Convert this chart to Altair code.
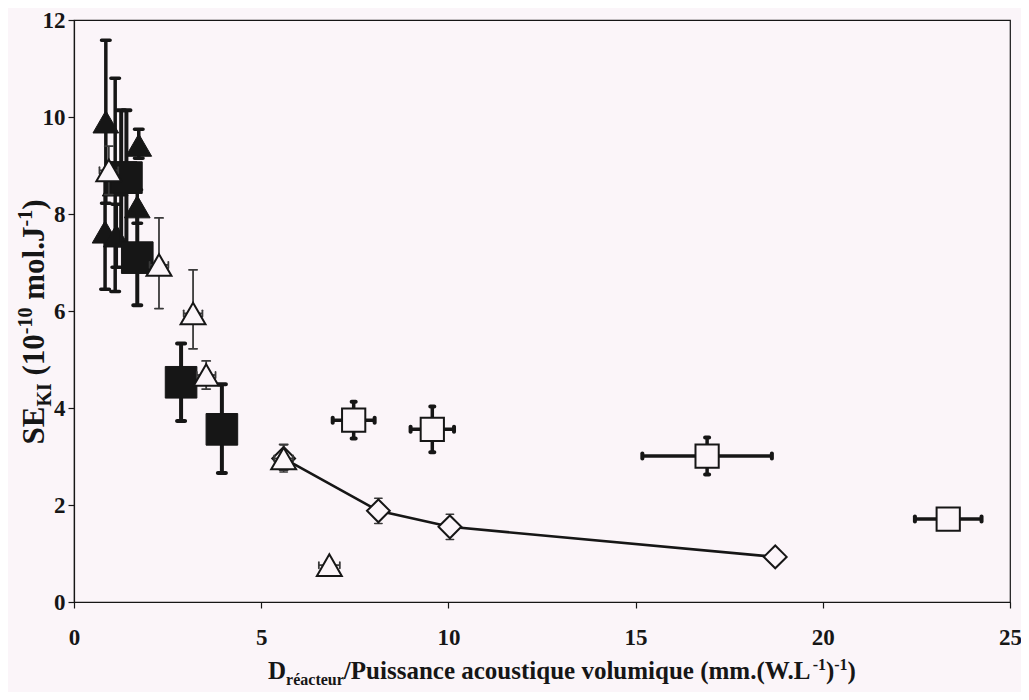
import altair as alt
import pandas as pd

# ---------------- data ----------------
# filled triangles
tri_f_x = [0.85, 0.83, 1.10, 1.13, 1.69, 1.73]
tri_f_y = [9.90, 7.63, 8.60, 7.55, 8.15, 9.42]
tri_f_lo = [8.22, 6.45, 6.40, 6.90, 7.81, 9.15]
tri_f_hi = [11.58, 8.80, 10.80, 8.20, 8.50, 9.75]

# filled squares
sq_f_x = [1.26, 1.40, 1.69, 2.86, 3.95]
sq_f_y = [8.75, 8.75, 7.10, 4.53, 3.56]
sq_f_lo = [7.35, 7.35, 6.12, 3.73, 2.66]
sq_f_hi = [10.14, 10.14, 8.08, 5.33, 4.49]

# open triangles
tri_o_x = [0.93, 2.27, 3.18, 3.53, 5.60, 6.82]
tri_o_y = [8.90, 6.95, 5.95, 4.68, 2.96, 0.76]
tri_o_lo = [8.40, 6.05, 5.22, 4.39, 2.72, 0.70]
tri_o_hi = [9.40, 7.92, 6.85, 4.97, 3.25, 0.82]
tri_o_xerr = [0.25, 0.25, 0.25, 0.25, 0.25, 0.28]

# open squares
sq_o_x = [7.47, 9.57, 16.91, 23.35]
sq_o_y = [3.75, 3.56, 3.01, 1.71]
sq_o_yerr = [0.38, 0.47, 0.38, 0.12]
sq_o_xerr = [0.56, 0.58, 1.73, 0.89]

# open diamonds (joined by a line)
dia_x = [5.60, 8.13, 10.04, 18.73]
dia_y = [2.96, 1.88, 1.55, 0.93]
dia_yerr = [0.28, 0.26, 0.26, 0.05]

x_ticks = [0, 5, 10, 15, 20, 25]
y_ticks = [0, 2, 4, 6, 8, 10, 12]

# ---------------- styling ----------------
BG = "#fbf5f9"
INK = "#161616"
GREY = "#3a3a3a"
FONT = "Liberation Serif"
W, H = 936, 582

xs = alt.Scale(domain=[0, 25], nice=False, zero=False)
ys = alt.Scale(domain=[0, 12], nice=False, zero=False)
ax_common = dict(title=None, grid=False, domainColor=INK, domainWidth=1.2,
                 tickColor=INK, tickWidth=1.2, tickSize=6,
                 labelFont=FONT, labelFontWeight="bold", labelFontSize=23,
                 labelColor=INK)
xax = alt.Axis(values=x_ticks, labelPadding=18, labelFlush=False, **ax_common)
yax = alt.Axis(values=y_ticks, labelPadding=3, **ax_common)


def X(f):
    return alt.X(f, type="quantitative", scale=xs, axis=xax)


def Y(f):
    return alt.Y(f, type="quantitative", scale=ys, axis=yax)


def ybars(df, sw, color, cap, capw):
    rule = alt.Chart(df).mark_rule(strokeWidth=sw, color=color).encode(
        x=X("x"), y=Y("lo"), y2="hi")
    caps = alt.Chart(df).transform_fold(["lo", "hi"], as_=["k", "v"]).mark_tick(
        orient="horizontal", size=cap, thickness=capw, color=color,
        cornerRadius=capw / 2, opacity=1).encode(x=X("x"), y=Y("v:Q"))
    return [rule, caps]


def xbars(df, sw, color, cap, capw):
    rule = alt.Chart(df).mark_rule(strokeWidth=sw, color=color).encode(
        x=X("xlo"), x2="xhi", y=Y("y"))
    caps = alt.Chart(df).transform_fold(["xlo", "xhi"], as_=["k", "v"]).mark_tick(
        orient="vertical", size=cap, thickness=capw, color=color,
        cornerRadius=capw / 2, opacity=1).encode(x=X("v:Q"), y=Y("y"))
    return [rule, caps]


def markers(df, shape, size, filled):
    if filled:
        m = alt.Chart(df).mark_point(shape=shape, size=size, filled=True,
                                     fill=INK, stroke=INK, strokeWidth=1, opacity=1)
    else:
        m = alt.Chart(df).mark_point(shape=shape, size=size, filled=True,
                                     fill=BG, stroke=INK, strokeWidth=2, opacity=1)
    return m.encode(x=X("x"), y=Y("y"))


df_tf = pd.DataFrame({"x": tri_f_x, "y": tri_f_y, "lo": tri_f_lo, "hi": tri_f_hi})
df_sf = pd.DataFrame({"x": sq_f_x, "y": sq_f_y, "lo": sq_f_lo, "hi": sq_f_hi})
df_to = pd.DataFrame({"x": tri_o_x, "y": tri_o_y, "lo": tri_o_lo, "hi": tri_o_hi,
                      "xlo": [a - e for a, e in zip(tri_o_x, tri_o_xerr)],
                      "xhi": [a + e for a, e in zip(tri_o_x, tri_o_xerr)]})
df_so = pd.DataFrame({"x": sq_o_x, "y": sq_o_y,
                      "lo": [a - e for a, e in zip(sq_o_y, sq_o_yerr)],
                      "hi": [a + e for a, e in zip(sq_o_y, sq_o_yerr)],
                      "xlo": [a - e for a, e in zip(sq_o_x, sq_o_xerr)],
                      "xhi": [a + e for a, e in zip(sq_o_x, sq_o_xerr)]})
df_d = pd.DataFrame({"x": dia_x, "y": dia_y,
                     "lo": [a - e for a, e in zip(dia_y, dia_yerr)],
                     "hi": [a + e for a, e in zip(dia_y, dia_yerr)]})

layers = []
layers.append(alt.Chart(df_d).mark_line(color=INK, strokeWidth=2.6).encode(
    x=X("x"), y=Y("y")))
layers += ybars(df_d, 1.6, GREY, 9, 1.6)
layers.append(markers(df_d, "diamond", 520, False))
layers += ybars(df_tf, 3.5, INK, 12, 3.5)
layers.append(markers(df_tf, "triangle-up", 660, True))
layers += ybars(df_sf, 4, INK, 12, 4)
layers.append(markers(df_sf, "square", 1000, True))
layers += ybars(df_to, 1.8, GREY, 10, 1.8)
layers += xbars(df_to, 1.8, GREY, 8, 1.8)
layers.append(markers(df_to, "triangle-up", 620, False))
layers += ybars(df_so, 3.5, INK, 8, 4)
layers += xbars(df_so, 3.5, INK, 9, 4)
layers.append(markers(df_so, "square", 540, False))

# ---------------- axis titles with sub/superscripts ----------------
ADV = {" ": 250, "(": 333, ")": 333, "-": 333, ".": 250, "/": 278,
       "D": 722, "E": 667, "I": 389, "J": 500, "K": 778, "L": 667,
       "P": 611, "S": 556, "W": 1000, "a": 500, "c": 444, "e": 444,
       "é": 444, "i": 278, "l": 278, "m": 833, "n": 556, "o": 500,
       "q": 556, "r": 444, "s": 389, "t": 333, "u": 556, "v": 500}


def tw(s, size):
    return sum(ADV.get(ch, 500) for ch in s) * size / 1000.0


def title_layers(pieces, main, small, horizontal, cx, cy, sub_shift, sup_shift):
    laid = []
    pos = 0.0
    for txt, kind in pieces:
        size = main if kind == "n" else small
        lead = len(txt) - len(txt.lstrip())
        pos += tw(" " * lead, size)
        shift = {"n": 0.0, "b": sub_shift, "p": -sup_shift}[kind]
        laid.append((txt.lstrip(), size, pos, shift))
        pos += tw(txt.lstrip(), size)
    total = pos
    out = []
    for txt, size, p, shift in laid:
        if horizontal:
            px, py, ang = cx - total / 2 + p, cy + shift, 0
        else:
            px, py, ang = cx + shift, cy + total / 2 - p, 270
        out.append(alt.Chart(pd.DataFrame({"t": [txt]})).mark_text(
            align="left", baseline="alphabetic", angle=ang, font=FONT,
            fontWeight="bold", fontSize=size, color=INK).encode(
            text="t:N", x=alt.value(px), y=alt.value(py)))
    return out


x_title = [("D", "n"), ("réacteur", "b"),
           ("/Puissance acoustique volumique (mm.(W.L", "n"),
           ("-1", "p"), (")", "n"), ("-1", "p"), (")", "n")]
y_title = [("SE", "n"), ("KI", "b"), (" (10", "n"), ("-10", "p"),
           (" mol.J", "n"), ("-1", "p"), (")", "n")]

layers += title_layers(x_title, 25, 16, True, 488, 659, 6, 9)
layers += title_layers(y_title, 31, 20, False, -30, 302, 7, 12)

chart = alt.layer(*layers).properties(
    width=W, height=H,
    autosize=alt.AutoSizeParams(type="none"),
    padding={"left": 66, "top": 12, "right": 11, "bottom": 90},
    background=BG,
).configure_view(stroke=INK, strokeWidth=1.2)

chart.save("out.html", embed_options={"renderer": "svg", "actions": False})
